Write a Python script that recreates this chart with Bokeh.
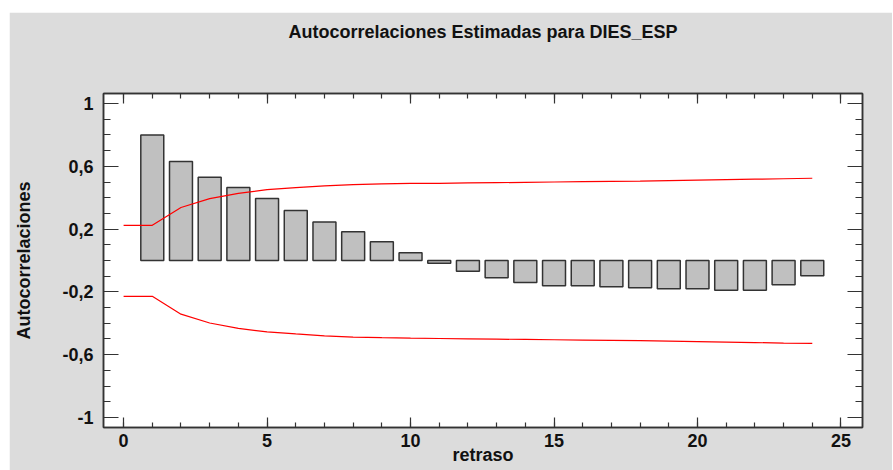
from bokeh.plotting import figure
from bokeh.models import Range1d, FixedTicker, LinearAxis
from bokeh.embed import file_html
from bokeh.resources import INLINE

# ---- data ----
lags = list(range(1, 25))
acf = [0.80, 0.63, 0.53, 0.465, 0.395, 0.318, 0.246, 0.183, 0.119, 0.049,
       -0.017, -0.068, -0.110, -0.140, -0.161, -0.161, -0.168, -0.174,
       -0.180, -0.180, -0.189, -0.189, -0.155, -0.097]

limit_lags = list(range(0, 25))
upper = [0.224, 0.224, 0.338, 0.394, 0.428, 0.451, 0.464, 0.476, 0.484, 0.488,
         0.491, 0.492, 0.494, 0.496, 0.498, 0.500, 0.502, 0.504, 0.506, 0.509,
         0.512, 0.515, 0.518, 0.521, 0.524]
lower = [-0.228, -0.228, -0.342, -0.398, -0.432, -0.455, -0.468, -0.480, -0.488,
         -0.492, -0.495, -0.497, -0.499, -0.501, -0.503, -0.505, -0.507, -0.509,
         -0.511, -0.514, -0.517, -0.520, -0.523, -0.526, -0.528]

x_ticks = [0, 5, 10, 15, 20, 25]
x_minor = list(range(0, 26))
y_ticks = [-1.0, -0.6, -0.2, 0.2, 0.6, 1.0]
y_tick_labels = ["-1", "-0,6", "-0,2", "0,2", "0,6", "1"]
y_minor = [round(-1.0 + 0.1 * i, 1) for i in range(21)]

title_text = "Autocorrelaciones Estimadas para DIES_ESP"
x_label = "retraso"
y_label = "Autocorrelaciones"

FONT = "Liberation Sans"
FS = "18px"
BG = "#dcdcdc"
AX = "#333333"
TXT = "#111111"

p = figure(width=883, height=458, output_backend="svg", toolbar_location=None,
           x_range=Range1d(-0.7, 25.75), y_range=Range1d(-1.064, 1.064),
           min_border_left=94, min_border_right=30, min_border_top=81,
           min_border_bottom=43, x_axis_location=None, y_axis_location=None)
p.margin = (12, 1, 0, 9)
p.border_fill_color = BG
p.background_fill_color = "white"
p.outline_line_color = AX
p.outline_line_width = 1.5
p.xgrid.visible = False
p.ygrid.visible = False


def style_axis(ax, show_labels, major_len, minor_len):
    ax.axis_line_color = AX
    ax.axis_line_width = 1.5
    ax.major_tick_line_color = AX
    ax.minor_tick_line_color = AX
    ax.major_tick_line_width = 1.2
    ax.minor_tick_line_width = 1.2
    ax.major_tick_out = 0
    ax.minor_tick_out = 0
    ax.major_tick_in = major_len
    ax.minor_tick_in = minor_len
    ax.major_label_text_font = FONT
    ax.major_label_text_font_style = "bold"
    ax.major_label_text_font_size = FS
    ax.major_label_text_color = TXT
    ax.axis_label_text_font = FONT
    ax.axis_label_text_font_style = "bold"
    ax.axis_label_text_font_size = FS
    ax.axis_label_text_color = TXT
    if not show_labels:
        ax.major_label_text_alpha = 0
        ax.major_label_text_font_size = "1px"
        ax.major_label_standoff = 0


# top mirror axis, carrying the chart title
xt = LinearAxis(ticker=FixedTicker(ticks=x_ticks, minor_ticks=x_minor))
style_axis(xt, False, 10, 5)
xt.axis_label = title_text
xt.axis_label_standoff = 52
p.add_layout(xt, "above")

# bottom axis
xb = LinearAxis(ticker=FixedTicker(ticks=x_ticks, minor_ticks=x_minor))
style_axis(xb, True, 10, 5)
xb.major_label_standoff = 6
xb.axis_label = x_label
xb.axis_label_standoff = -5
p.add_layout(xb, "below")

# y axes
yl = LinearAxis(ticker=FixedTicker(ticks=y_ticks, minor_ticks=y_minor))
style_axis(yl, True, 15, 7)
yl.major_label_standoff = 10
yl.major_label_overrides = dict(zip(y_ticks, y_tick_labels))
yl.axis_label = y_label
yl.axis_label_standoff = 25
p.add_layout(yl, "left")

yr = LinearAxis(ticker=FixedTicker(ticks=y_ticks, minor_ticks=y_minor))
style_axis(yr, False, 15, 7)
p.add_layout(yr, "right")

# bars
p.vbar(x=lags, top=acf, bottom=0, width=0.8, fill_color="#c0c0c0",
       line_color=AX, line_width=1.5)

# limits
p.line(limit_lags, upper, line_color="red", line_width=1.2)
p.line(limit_lags, lower, line_color="red", line_width=1.2)

open("out.html", "w").write(file_html(p, INLINE))
